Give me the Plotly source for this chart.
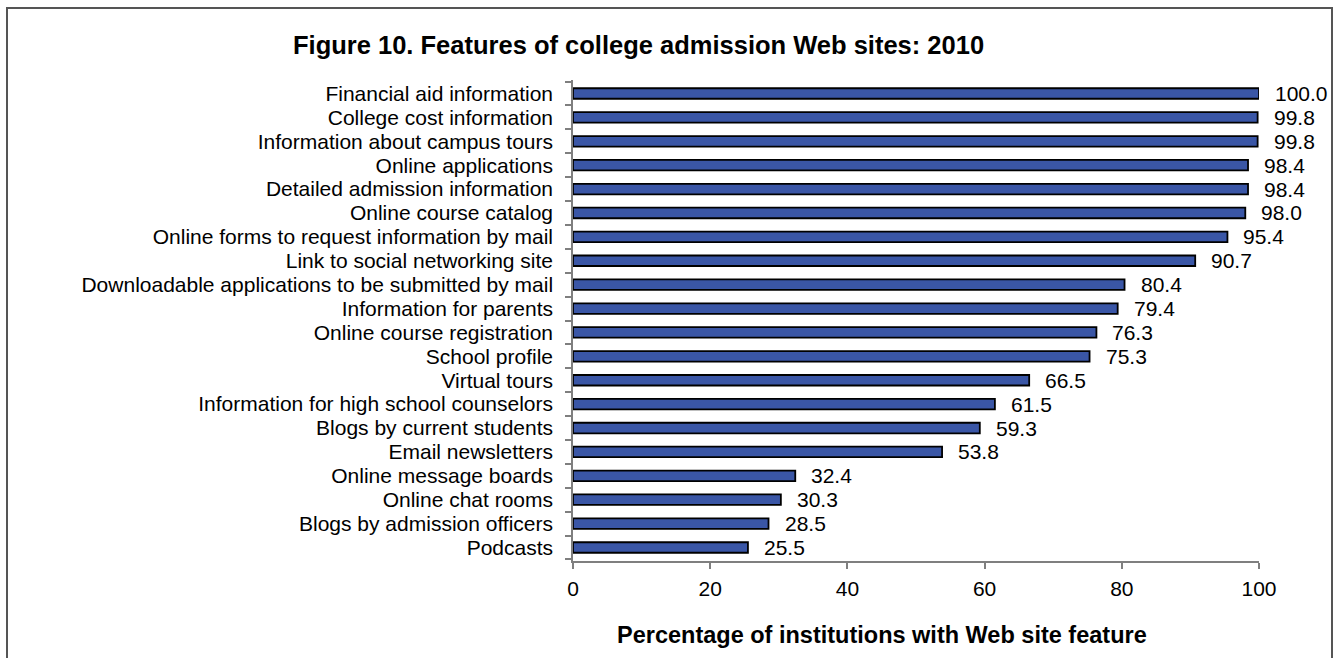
import plotly.graph_objects as go

features = [
    "Financial aid information",
    "College cost information",
    "Information about campus tours",
    "Online applications",
    "Detailed admission information",
    "Online course catalog",
    "Online forms to request information by mail",
    "Link to social networking site",
    "Downloadable applications to be submitted by mail",
    "Information for parents",
    "Online course registration",
    "School profile",
    "Virtual tours",
    "Information for high school counselors",
    "Blogs by current students",
    "Email newsletters",
    "Online message boards",
    "Online chat rooms",
    "Blogs by admission officers",
    "Podcasts",
]
percentages = [100.0, 99.8, 99.8, 98.4, 98.4, 98.0, 95.4, 90.7, 80.4, 79.4,
               76.3, 75.3, 66.5, 61.5, 59.3, 53.8, 32.4, 30.3, 28.5, 25.5]
x_ticks = [0, 20, 40, 60, 80, 100]

FONT = "Liberation Sans, Arial, sans-serif"
W, H = 1336, 658
ML, MR, MT, MB = 573, 77, 80, 97
pw, ph = W - ML - MR, H - MT - MB


def px_to_paper_x(px):
    return (px - ML) / pw


def px_to_paper_y(py):
    return (H - MB - py) / ph


fig = go.Figure()
fig.add_trace(go.Bar(
    x=percentages,
    y=features,
    orientation="h",
    width=0.44,
    marker=dict(color="#3A56A6", line=dict(color="#000000", width=1.8)),
    hoverinfo="x+y",
))

# value labels to the right of each bar
for name, val in zip(features, percentages):
    fig.add_annotation(
        x=val, y=name, text=f"{val:.1f}", showarrow=False,
        xanchor="left", yanchor="middle", xshift=14,
        font=dict(family=FONT, size=21, color="#000000"),
    )

# chart title
fig.add_annotation(
    x=px_to_paper_x(638), y=px_to_paper_y(45), xref="paper", yref="paper",
    text="<b>Figure 10. Features of college admission Web sites: 2010</b>",
    showarrow=False, xanchor="center", yanchor="middle",
    font=dict(family=FONT, size=25.5, color="#000000"),
)

# x-axis title
fig.add_annotation(
    x=px_to_paper_x(882), y=px_to_paper_y(635), xref="paper", yref="paper",
    text="<b>Percentage of institutions with Web site feature</b>",
    showarrow=False, xanchor="center", yanchor="middle",
    font=dict(family=FONT, size=23.5, color="#000000"),
)

# outer frame
fig.add_shape(
    type="rect", xref="paper", yref="paper",
    x0=px_to_paper_x(7), x1=px_to_paper_x(1332),
    y0=px_to_paper_y(700), y1=px_to_paper_y(8),
    line=dict(color="#555555", width=2), fillcolor="rgba(0,0,0,0)",
    layer="below",
)

fig.update_layout(
    width=W, height=H,
    margin=dict(l=ML, r=MR, t=MT, b=MB, pad=0),
    plot_bgcolor="#ffffff", paper_bgcolor="#ffffff",
    showlegend=False,
    font=dict(family=FONT, size=21, color="#000000"),
)
fig.update_xaxes(
    range=[0, 100], tickvals=x_ticks, ticktext=[str(t) for t in x_ticks],
    showgrid=False, zeroline=False,
    showline=True, linecolor="#7f7f7f", linewidth=1.5,
    ticks="outside", ticklen=6, tickcolor="#7f7f7f", tickwidth=1.5,
    ticklabelstandoff=2,
    tickfont=dict(family=FONT, size=21, color="#000000"),
)
fig.update_yaxes(
    type="category",
    categoryorder="array", categoryarray=features, autorange="reversed",
    tickmode="array", tickvals=features, ticktext=features,
    showgrid=False, zeroline=False,
    showline=True, linecolor="#7f7f7f", linewidth=1.5,
    ticks="outside", tickson="boundaries", ticklen=6,
    tickcolor="#7f7f7f", tickwidth=1.5,
    ticklabelstandoff=14,
    tickfont=dict(family=FONT, size=21, color="#000000"),
)

fig.write_html("out.html")
